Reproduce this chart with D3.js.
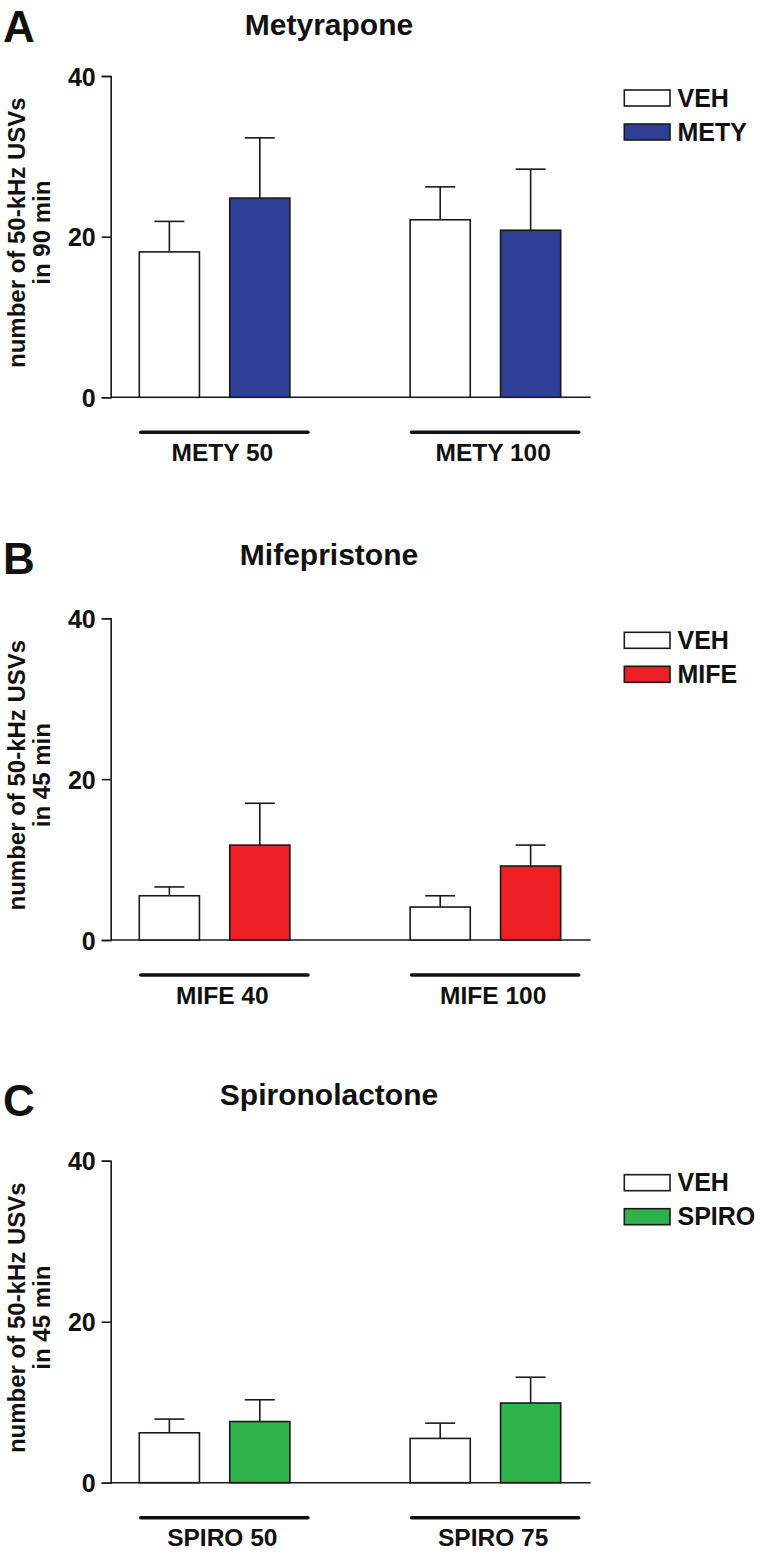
<!DOCTYPE html>
<html>
<head>
<meta charset="utf-8">
<script src="https://cdn.jsdelivr.net/npm/d3@7"></script>
<style>
  html, body { margin: 0; padding: 0; background: #fff; }
  svg { display: block; }
  text { font-family: "Liberation Sans", Arial, sans-serif; font-weight: bold; fill: #111; }
</style>
</head>
<body>
<svg id="chart" width="760" height="1552"></svg>
<script>
// ---- data ----
const panelLetters = ["A", "B", "C"];
const titles = ["Metyrapone", "Mifepristone", "Spironolactone"];
const yLabelLine1 = "number of 50-kHz USVs";
const yLabelLine2 = ["in 90 min", "in 45 min", "in 45 min"];
const yTicks = [0, 20, 40];

const groupsA = ["METY 50", "METY 100"];
const seriesA = ["VEH", "METY"];
const vehMeanA = [18.1, 22.1];
const vehSemA = [3.8, 4.1];
const drugMeanA = [24.8, 20.8];
const drugSemA = [7.5, 7.6];

const groupsB = ["MIFE 40", "MIFE 100"];
const seriesB = ["VEH", "MIFE"];
const vehMeanB = [5.5, 4.1];
const vehSemB = [1.1, 1.4];
const drugMeanB = [11.8, 9.2];
const drugSemB = [5.2, 2.6];

const groupsC = ["SPIRO 50", "SPIRO 75"];
const seriesC = ["VEH", "SPIRO"];
const vehMeanC = [6.2, 5.5];
const vehSemC = [1.7, 1.9];
const drugMeanC = [7.6, 9.9];
const drugSemC = [2.7, 3.2];

const drugColors = ["#2f3f96", "#ec1f25", "#2fb24a"];

// ---- layout ----
const layout = [
  { yTop: 76, yZero: 397.3, titleY: 35, letterY: 42 },
  { yTop: 618.3, yZero: 940, titleY: 565, letterY: 574 },
  { yTop: 1160.7, yZero: 1482.7, titleY: 1105, letterY: 1116 }
];

const panelData = [
  { groups: groupsA, series: seriesA, veh: vehMeanA, vehSem: vehSemA, drug: drugMeanA, drugSem: drugSemA },
  { groups: groupsB, series: seriesB, veh: vehMeanB, vehSem: vehSemB, drug: drugMeanB, drugSem: drugSemB },
  { groups: groupsC, series: seriesC, veh: vehMeanC, vehSem: vehSemC, drug: drugMeanC, drugSem: drugSemC }
];

const svg = d3.select("#chart");
const axisX = 110.7, axisRight = 590.7;
const ink = "#1a1a1a";

panelData.forEach((pd, i) => {
  const L = layout[i];
  const g = svg.append("g");
  const y = d3.scaleLinear().domain([0, 40]).range([L.yZero, L.yTop]);
  const x0 = d3.scaleBand().domain(pd.groups).range([139.3, 560.7]).paddingInner(0.444).paddingOuter(0);
  const x1 = d3.scaleBand().domain(pd.series).range([0, x0.bandwidth()]).paddingInner(0.335).paddingOuter(0);
  const color = d3.scaleOrdinal().domain(pd.series).range(["#ffffff", drugColors[i]]);

  // panel letter & title
  g.append("text").attr("x", 3).attr("y", L.letterY).attr("font-size", 44).text(panelLetters[i]);
  g.append("text").attr("x", 329).attr("y", L.titleY).attr("text-anchor", "middle")
    .attr("font-size", 30).text(titles[i]);

  // y axis label
  const yMid = (L.yTop + L.yZero) / 2 - 4;
  g.append("text").attr("transform", `translate(25,${yMid}) rotate(-90)`)
    .attr("text-anchor", "middle").attr("font-size", 24).text(yLabelLine1);
  g.append("text").attr("transform", `translate(50,${yMid}) rotate(-90)`)
    .attr("text-anchor", "middle").attr("font-size", 24).text(yLabelLine2[i]);

  // y axis
  const yAxis = d3.axisLeft(y).tickValues(yTicks).tickSize(9).tickPadding(6).tickFormat(d3.format("d"));
  const ya = g.append("g").attr("transform", `translate(${axisX},0)`).call(yAxis);
  ya.select(".domain").attr("stroke", ink).attr("stroke-width", 1.6);
  ya.selectAll(".tick line").attr("stroke", ink).attr("stroke-width", 1.6);
  ya.selectAll(".tick text").attr("font-size", 25).attr("font-family", "Liberation Sans, Arial, sans-serif")
    .attr("font-weight", "bold").attr("fill", "#111").attr("dy", "0.36em");

  // x baseline
  g.append("line").attr("x1", axisX).attr("x2", axisRight).attr("y1", y(0)).attr("y2", y(0))
    .attr("stroke", ink).attr("stroke-width", 1.6);

  // bars
  const rows = [];
  pd.groups.forEach((grp, k) => {
    rows.push({ group: grp, s: pd.series[0], mean: pd.veh[k], sem: pd.vehSem[k] });
    rows.push({ group: grp, s: pd.series[1], mean: pd.drug[k], sem: pd.drugSem[k] });
  });

  const eb = g.append("g");
  rows.forEach(r => {
    const cx = x0(r.group) + x1(r.s) + x1.bandwidth() / 2;
    eb.append("line").attr("x1", cx).attr("x2", cx).attr("y1", y(r.mean)).attr("y2", y(r.mean + r.sem))
      .attr("stroke", ink).attr("stroke-width", 1.6);
    eb.append("line").attr("x1", cx - 15).attr("x2", cx + 15).attr("y1", y(r.mean + r.sem)).attr("y2", y(r.mean + r.sem))
      .attr("stroke", ink).attr("stroke-width", 1.6);
  });

  g.append("g").selectAll("rect").data(rows).join("rect")
    .attr("x", r => x0(r.group) + x1(r.s))
    .attr("width", x1.bandwidth())
    .attr("y", r => y(r.mean))
    .attr("height", r => y(0) - y(r.mean))
    .attr("fill", r => color(r.s))
    .attr("stroke", ink).attr("stroke-width", 1.6);

  // group underline and labels
  pd.groups.forEach(grp => {
    const xa = x0(grp) + 1.5, xb = x0(grp) + x0.bandwidth() + 18;
    g.append("line").attr("x1", xa).attr("x2", xb).attr("y1", y(0) + 35).attr("y2", y(0) + 35)
      .attr("stroke", "#111").attr("stroke-width", 3.6).attr("stroke-linecap", "round");
    g.append("text").attr("x", (xa + xb) / 2 - 2).attr("y", y(0) + 63.5).attr("text-anchor", "middle")
      .attr("font-size", 24.5).text(grp);
  });

  // legend
  pd.series.forEach((s, k) => {
    const ry = L.yTop + 14 + k * 34;
    g.append("rect").attr("x", 624.3).attr("y", ry).attr("width", 45.7).attr("height", 16)
      .attr("fill", color(s)).attr("stroke", ink).attr("stroke-width", 1.6);
    g.append("text").attr("x", 677.5).attr("y", ry + 16.5).attr("font-size", 25).text(s);
  });
});
</script>
</body>
</html>
